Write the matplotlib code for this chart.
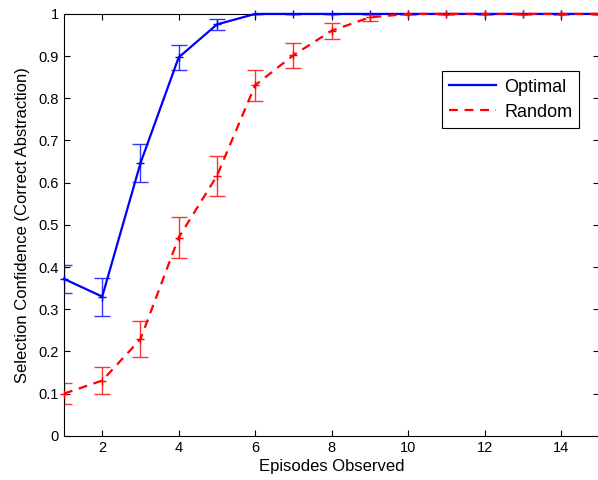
import matplotlib.pyplot as plt

plt.rcParams['font.family'] = ['Liberation Sans', 'DejaVu Sans']

# episodes observed
episodes = list(range(1, 16))

# selection confidence, mean and error per episode
optimal_mean = [0.372, 0.330, 0.646, 0.897, 0.975, 1.0, 1.0, 1.0, 1.0, 1.0, 1.0, 1.0, 1.0, 1.0, 1.0]
optimal_err = [0.033, 0.045, 0.045, 0.030, 0.014, 0, 0, 0, 0, 0, 0, 0, 0, 0, 0]
random_mean = [0.100, 0.131, 0.229, 0.470, 0.616, 0.831, 0.902, 0.960, 0.992, 1.0, 1.0, 1.0, 1.0, 1.0, 1.0]
random_err = [0.025, 0.033, 0.043, 0.048, 0.048, 0.037, 0.030, 0.019, 0.008, 0, 0, 0, 0, 0, 0]

fig = plt.figure(figsize=(5.98, 4.8), dpi=100)
ax = fig.add_axes([0.107, 0.092, 0.895, 0.879])

# error bars first, thin, then the lines on top
ax.errorbar(episodes, optimal_mean, yerr=optimal_err, fmt='none', ecolor='#3333ff',
            elinewidth=1, capsize=5.5, capthick=1, zorder=2)
ax.errorbar(episodes, random_mean, yerr=random_err, fmt='none', ecolor='#ff3333',
            elinewidth=1, capsize=5.5, capthick=1, zorder=2)

# lines (legend entries) and the '+' markers separately
ax.plot(episodes, optimal_mean, '-', color='#0000ff', lw=1.6, label='Optimal',
        clip_on=False, zorder=3)
ax.plot(episodes, random_mean, '--', color='#ff0000', lw=1.6, dashes=(4, 3),
        label='Random', clip_on=False, zorder=4)
ax.plot(episodes, optimal_mean, '+', color='#0000ff', ms=6, mew=1, clip_on=False, zorder=3)
ax.plot(episodes, random_mean, '+', color='#ff0000', ms=6, mew=1, clip_on=False, zorder=4)

ax.set_xlim(1, 15)
ax.set_ylim(0, 1)
ax.set_xticks([2, 4, 6, 8, 10, 12, 14])
ax.set_yticks([0, 0.1, 0.2, 0.3, 0.4, 0.5, 0.6, 0.7, 0.8, 0.9, 1])
ax.set_yticklabels(['0', '0.1', '0.2', '0.3', '0.4', '0.5', '0.6', '0.7', '0.8', '0.9', '1'])
ax.tick_params(direction='in', length=4, labelsize=10.5, top=True, right=True)
for s in ax.spines.values():
    s.set_linewidth(0.8)

ax.set_xlabel('Episodes Observed', fontsize=12, labelpad=3)
ax.set_ylabel('Selection Confidence (Correct Abstraction)', fontsize=12, labelpad=6)

leg = ax.legend(loc='upper right', bbox_to_anchor=(0.98, 0.885), fontsize=13,
                fancybox=False, edgecolor='black', framealpha=1,
                handlelength=2.6, handletextpad=0.45, borderpad=0.4, labelspacing=0.45)
leg.get_frame().set_linewidth(0.8)

fig.savefig('out.png', dpi=100)
